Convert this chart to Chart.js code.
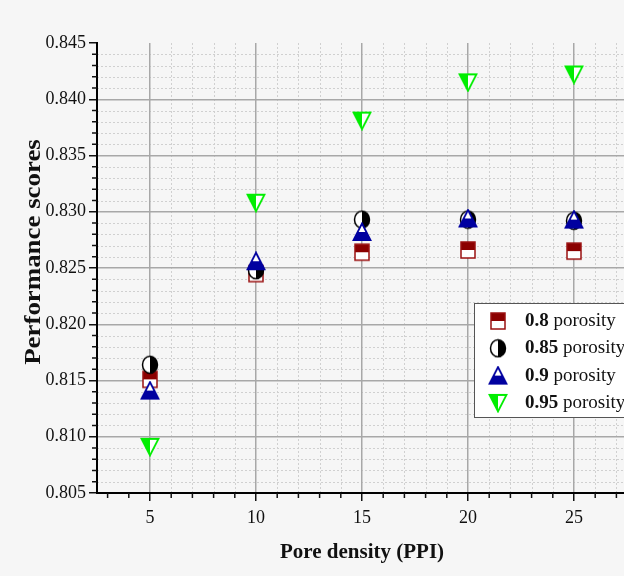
<!DOCTYPE html>
<html>
<head>
<meta charset="utf-8">
<script src="https://cdn.jsdelivr.net/npm/chart.js@4.4.1/dist/chart.umd.min.js"></script>
<style>
    html, body { margin: 0; padding: 0; overflow: hidden; background: #f6f6f6; }
    #wrap { position: relative; width: 640px; height: 576px; }
</style>
</head>
<body>
<div id="wrap"><canvas id="scoreChart" width="640" height="576"></canvas></div>
<script>
const poreDensity = [5, 10, 15, 20, 25];
const porosity080 = [0.8151, 0.8245, 0.8264, 0.8266, 0.8265];
const porosity085 = [0.8164, 0.8248, 0.8293, 0.8293, 0.8292];
const porosity090 = [0.8141, 0.8256, 0.8282, 0.8294, 0.8293];
const porosity095 = [0.8091, 0.8308, 0.8381, 0.8415, 0.8422];
const legendNumbers = ['0.8', '0.85', '0.9', '0.95'];
const xTicks = [5, 10, 15, 20, 25];
const yTicks = [0.805, 0.810, 0.815, 0.820, 0.825, 0.830, 0.835, 0.840, 0.845];
const xMinor = [3, 4, 6, 7, 8, 9, 11, 12, 13, 14, 16, 17, 18, 19, 21, 22, 23, 24, 26, 27];
const yMinor = [];
for (let i = 806; i < 845; i++) {
    if (i % 5 !== 0) yMinor.push(i / 1000);
}

const SERIF = "'Liberation Serif', 'Times New Roman', serif";

// half-filled marker glyphs
function makeMarker(kind) {
    const c = document.createElement('canvas');
    c.width = 20; c.height = 20;
    const g = c.getContext('2d');
    g.lineJoin = 'miter';
    if (kind === 'square') {
        g.fillStyle = '#ffffff';
        g.fillRect(3, 2, 14, 16);
        g.fillStyle = '#8b0000';
        g.fillRect(3, 2, 14, 8);
        g.strokeStyle = '#9a1010';
        g.lineWidth = 1.5;
        g.strokeRect(3, 2, 14, 16);
    } else if (kind === 'circle') {
        g.beginPath();
        g.ellipse(10, 10, 7.5, 8.5, 0, 0, Math.PI * 2);
        g.fillStyle = '#ffffff';
        g.fill();
        g.save();
        g.beginPath();
        g.rect(10, 0, 10, 20);
        g.clip();
        g.beginPath();
        g.ellipse(10, 10, 7.5, 8.5, 0, 0, Math.PI * 2);
        g.fillStyle = '#000000';
        g.fill();
        g.restore();
        g.beginPath();
        g.ellipse(10, 10, 7.5, 8.5, 0, 0, Math.PI * 2);
        g.strokeStyle = '#000000';
        g.lineWidth = 1.5;
        g.stroke();
    } else if (kind === 'up') {
        const tri = () => { g.beginPath(); g.moveTo(10, 1.5); g.lineTo(18.5, 18); g.lineTo(1.5, 18); g.closePath(); };
        tri(); g.fillStyle = '#ffffff'; g.fill();
        g.save(); g.beginPath(); g.rect(0, 10, 20, 10); g.clip();
        tri(); g.fillStyle = '#0000a0'; g.fill();
        g.restore();
        tri(); g.strokeStyle = '#0000a0'; g.lineWidth = 1.8; g.stroke();
    } else {
        const tri = () => { g.beginPath(); g.moveTo(1.5, 2); g.lineTo(18.5, 2); g.lineTo(10, 18.5); g.closePath(); };
        tri(); g.fillStyle = '#ffffff'; g.fill();
        g.save(); g.beginPath(); g.rect(0, 0, 10, 20); g.clip();
        tri(); g.fillStyle = '#00ee00'; g.fill();
        g.restore();
        tri(); g.strokeStyle = '#00ee00'; g.lineWidth = 1.8; g.stroke();
    }
    return c;
}

const markers = [makeMarker('square'), makeMarker('circle'), makeMarker('up'), makeMarker('down')];

function toPoints(values) {
    return poreDensity.map((x, i) => ({ x: x, y: values[i] }));
}

// dotted minor grid and small outward ticks
const minorGrid = {
    id: 'minorGrid',
    beforeDraw(chart) {
        const { ctx, chartArea: a, scales: { x, y } } = chart;
        ctx.save();
        ctx.strokeStyle = '#d0d0d0';
        ctx.lineWidth = 1;
        ctx.setLineDash([2, 2]);
        yMinor.forEach(v => {
            const py = Math.round(y.getPixelForValue(v)) + 0.5;
            ctx.beginPath(); ctx.moveTo(a.left, py); ctx.lineTo(a.right, py); ctx.stroke();
        });
        xMinor.filter(v => v > 5).forEach(v => {
            const px = Math.round(x.getPixelForValue(v)) + 0.5;
            ctx.beginPath(); ctx.moveTo(px, a.top); ctx.lineTo(px, a.bottom); ctx.stroke();
        });
        ctx.restore();
    },
    afterDraw(chart) {
        const { ctx, chartArea: a, scales: { x, y } } = chart;
        ctx.save();
        ctx.strokeStyle = '#111';
        ctx.lineWidth = 1.5;
        yMinor.forEach(v => {
            const py = y.getPixelForValue(v);
            ctx.beginPath(); ctx.moveTo(a.left - 5, py); ctx.lineTo(a.left, py); ctx.stroke();
        });
        xMinor.forEach(v => {
            const px = x.getPixelForValue(v);
            ctx.beginPath(); ctx.moveTo(px, a.bottom); ctx.lineTo(px, a.bottom + 5); ctx.stroke();
        });

        // y axis title
        ctx.translate(34, 252);
        ctx.rotate(-Math.PI / 2);
        ctx.scale(1.12, 1);
        ctx.font = 'bold 24px ' + SERIF;
        ctx.fillStyle = '#111';
        ctx.textAlign = 'center';
        ctx.textBaseline = 'middle';
        ctx.fillText('Performance scores', 0, 0);
        ctx.restore();
    }
};

// legend box with bold porosity values
const porosityLegend = {
    id: 'porosityLegend',
    afterDatasetsDraw(chart) {
        const ctx = chart.ctx;
        const boxX = 474, boxY = 303;
        ctx.save();
        ctx.fillStyle = '#ffffff';
        ctx.fillRect(boxX, boxY, 200, 114);
        ctx.strokeStyle = '#555';
        ctx.lineWidth = 1;
        ctx.strokeRect(boxX + 0.5, boxY + 0.5, 200, 114);
        ctx.textBaseline = 'middle';
        ctx.fillStyle = '#111';
        legendNumbers.forEach((num, i) => {
            const rowY = 321 + i * 27.3;
            ctx.drawImage(markers[i], 488, rowY - 10);
            ctx.font = 'bold 19px ' + SERIF;
            ctx.fillText(num, 525, rowY);
            const w = ctx.measureText(num).width;
            ctx.font = '19px ' + SERIF;
            ctx.fillText(' porosity', 525 + w, rowY);
        });
        ctx.restore();
    }
};

const seriesValues = [porosity080, porosity085, porosity090, porosity095];

new Chart(document.getElementById('scoreChart'), {
    type: 'scatter',
    data: {
        datasets: seriesValues.map((vals, i) => ({
            label: legendNumbers[i] + ' porosity',
            data: toPoints(vals),
            pointStyle: markers[i],
            pointRadius: 9,
            pointHoverRadius: 9,
            showLine: false,
            order: 4 - i
        }))
    },
    options: {
        responsive: false,
        animation: false,
        events: [],
        layout: { padding: { top: 43, right: 13, left: 0, bottom: 0 } },
        plugins: {
            legend: { display: false },
            tooltip: { enabled: false }
        },
        scales: {
            x: {
                type: 'linear',
                min: 2.5,
                max: 27.5,
                afterBuildTicks: s => { s.ticks = xTicks.map(v => ({ value: v })); },
                afterFit: s => { s.height = 83; },
                ticks: {
                    color: '#111',
                    padding: 6,
                    font: { family: SERIF, size: 18 },
                    callback: v => String(v)
                },
                grid: {
                    color: '#a8a8a8',
                    lineWidth: 1.5,
                    tickColor: '#111',
                    tickLength: 8,
                    tickWidth: 1.5
                },
                border: { color: '#000', width: 2 },
                title: {
                    display: true,
                    text: 'Pore density (PPI)',
                    color: '#111',
                    font: { family: SERIF, size: 21, weight: 'bold' },
                    padding: { top: 0, bottom: 11 }
                }
            },
            y: {
                type: 'linear',
                min: 0.805,
                max: 0.845,
                afterBuildTicks: s => { s.ticks = yTicks.map(v => ({ value: v })); },
                afterFit: s => { s.width = 97; },
                ticks: {
                    color: '#111',
                    padding: 3,
                    font: { family: SERIF, size: 18 },
                    callback: v => v.toFixed(3)
                },
                grid: {
                    color: c => (c.tick && c.tick.value > 0.8445) ? 'rgba(0,0,0,0)' : '#a8a8a8',
                    lineWidth: 1.5,
                    tickColor: '#111',
                    tickLength: 8,
                    tickWidth: 1.5
                },
                border: { color: '#000', width: 2 }
            }
        }
    },
    plugins: [minorGrid, porosityLegend]
});
</script>
</body>
</html>
